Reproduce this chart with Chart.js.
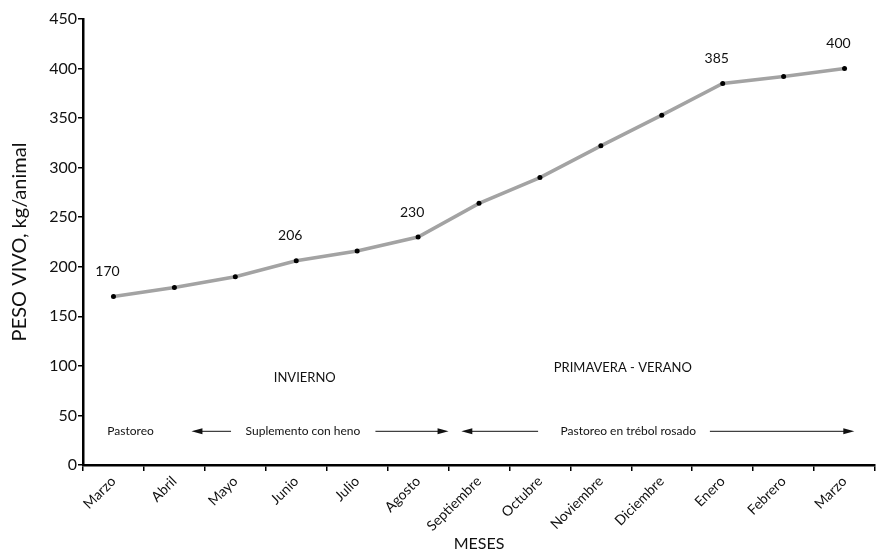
<!DOCTYPE html>
<html lang="es">
<head>
<meta charset="UTF-8">
<script src="https://cdn.jsdelivr.net/npm/chart.js"></script>
<title>Peso vivo</title>
<style>
  html, body { margin: 0; padding: 0; background: #fff; }
  #wrap { width: 879px; height: 553px; }
</style>
<script>
  // meses del ciclo
  const meses = ['Marzo', 'Abril', 'Mayo', 'Junio', 'Julio', 'Agosto', 'Septiembre',
                 'Octubre', 'Noviembre', 'Diciembre', 'Enero', 'Febrero', 'Marzo'];
  // peso vivo kg/animal
  const peso = [170, 179, 190, 206, 216, 230, 264, 290, 322, 353, 385, 392, 400];
  // puntos con etiqueta de valor
  const etiquetados = [0, 3, 5, 10, 12];
  // marcas del eje y
  const yTicks = [0, 50, 100, 150, 200, 250, 300, 350, 400, 450];
</script>
</head>
<body>
<div id="wrap"><canvas id="myChart" width="879" height="553"></canvas></div>

<script>
  const fuente = "'Lato', 'Open Sans', sans-serif";

  // textos y flechas dentro del grafico (x = indice de mes, y = kg)
  const notas = [
    { txt: 'INVIERNO', x: 3.14, y: 88, size: 13 },
    { txt: 'PRIMAVERA - VERANO', x: 8.36, y: 98, size: 13 },
    { txt: 'Pastoreo', x: 0.28, y: 34, size: 12 },
    { txt: 'Suplemento con heno', x: 3.11, y: 34, size: 12 },
    { txt: 'Pastoreo en trébol rosado', x: 8.45, y: 34, size: 12 }
  ];
  const flechas = [
    { x1: 1.93, x2: 1.28, y: 34 },
    { x1: 4.30, x2: 5.50, y: 34 },
    { x1: 6.97, x2: 5.71, y: 34 },
    { x1: 9.79, x2: 12.16, y: 34 }
  ];

  const anotaciones = {
    id: 'anotaciones',
    afterDatasetsDraw(chart) {
      const c = chart.ctx;
      const xs = chart.scales.x, ys = chart.scales.y;
      c.save();
      c.fillStyle = '#111';
      c.textAlign = 'center';
      c.textBaseline = 'middle';

      // valores sobre los puntos
      const meta = chart.getDatasetMeta(0);
      c.font = '14px ' + fuente;
      etiquetados.forEach(function (i) {
        const p = meta.data[i];
        c.fillText(String(peso[i]), p.x - 6, p.y - 25);
      });

      notas.forEach(function (n) {
        c.font = n.size + 'px ' + fuente;
        c.fillText(n.txt, xs.getPixelForValue(n.x), ys.getPixelForValue(n.y));
      });

      c.strokeStyle = '#111';
      c.lineWidth = 1;
      flechas.forEach(function (f) {
        const a = xs.getPixelForValue(f.x1), b = xs.getPixelForValue(f.x2);
        const yy = ys.getPixelForValue(f.y);
        const dir = b > a ? 1 : -1;
        c.beginPath();
        c.moveTo(a, yy);
        c.lineTo(b - dir * 8, yy);
        c.stroke();
        c.beginPath();
        c.moveTo(b, yy);
        c.lineTo(b - dir * 11, yy - 3);
        c.lineTo(b - dir * 11, yy + 3);
        c.closePath();
        c.fill();
      });
      c.restore();
    }
  };

  const ctx = document.getElementById('myChart');
  new Chart(ctx, {
    type: 'line',
    data: {
      labels: meses,
      datasets: [{
        data: peso,
        borderColor: '#a3a3a3',
        borderWidth: 3.5,
        tension: 0,
        pointRadius: 2.5,
        pointBackgroundColor: '#000',
        pointBorderColor: '#000',
        pointBorderWidth: 0
      }]
    },
    options: {
      responsive: false,
      animation: false,
      devicePixelRatio: 1,
      layout: { padding: { top: 19, right: 1, left: 0, bottom: 0 } },
      plugins: { legend: { display: false }, tooltip: { enabled: false } },
      scales: {
        x: {
          offset: true,
          grid: { display: true, drawOnChartArea: false, offset: true, color: '#000', tickLength: 6, lineWidth: 1.5 },
          border: { display: true, color: '#000', width: 2.5 },
          ticks: { color: '#111', font: { family: fuente, size: 14 }, minRotation: 45, maxRotation: 45, padding: 2 },
          title: { display: true, text: 'MESES', color: '#111', font: { family: fuente, size: 16 }, padding: { top: 0, bottom: 0 } },
          afterFit(s) { s.height = 88; }
        },
        y: {
          min: 0,
          max: 450,
          afterBuildTicks(s) { s.ticks = yTicks.map(v => ({ value: v })); },
          grid: { display: true, drawOnChartArea: false, color: '#000', tickLength: 5, lineWidth: 1.5 },
          border: { display: true, color: '#000', width: 2.5 },
          ticks: { color: '#111', font: { family: fuente, size: 16 }, padding: 1 },
          title: { display: true, text: 'PESO VIVO, kg/animal', color: '#111', font: { family: fuente, size: 20 }, padding: { top: 8, bottom: 0 } },
          afterFit(s) { s.width = 83; }
        }
      }
    },
    plugins: [anotaciones]
  });
</script>
</body>
</html>
